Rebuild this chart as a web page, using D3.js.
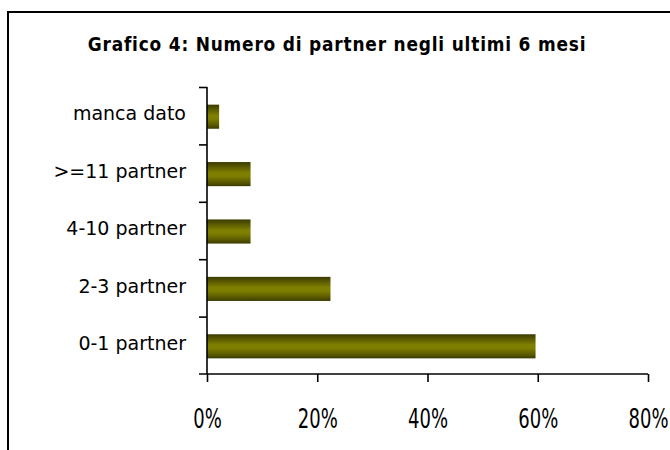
<!DOCTYPE html>
<html>
<head>
<meta charset="utf-8">
<script src="https://cdn.jsdelivr.net/npm/d3@7"></script>
<style>
  body { margin: 0; background: #fff; }
  text { font-family: "DejaVu Sans", sans-serif; fill: #000; }
</style>
</head>
<body>
<div id="chart"></div>
<script>
// data, top to bottom as in the picture
var categories = ["manca dato", ">=11 partner", "4-10 partner", "2-3 partner", "0-1 partner"];
var values = [2.2, 7.9, 7.9, 22.4, 59.6];
var xTicks = [0, 20, 40, 60, 80];
var title = "Grafico 4: Numero di partner negli ultimi 6 mesi";

var svgWidth = 670, svgHeight = 450;
var plotLeft = 207, plotRight = 648, plotTop = 87, plotBottom = 374;

var svg = d3.select("#chart").append("svg")
    .attr("width", svgWidth)
    .attr("height", svgHeight);

// bar gradient (dark edges, olive middle)
var grad = svg.append("defs").append("linearGradient")
    .attr("id", "olive")
    .attr("x1", 0).attr("y1", 0).attr("x2", 0).attr("y2", 1);
[[0, "#3b3b00"], [0.2, "#5a5a00"], [0.45, "#808000"], [0.6, "#7c7c00"], [0.85, "#585800"], [1, "#3b3b00"]]
    .forEach(function (s) {
        grad.append("stop").attr("offset", s[0]).attr("stop-color", s[1]);
    });

// frame
svg.append("rect")
    .attr("x", 8).attr("y", 12)
    .attr("width", 700).attr("height", 480)
    .attr("fill", "none")
    .attr("stroke", "#000")
    .attr("stroke-width", 2);

// title, a bit stretched vertically like the original
svg.append("text")
    .attr("text-anchor", "middle")
    .attr("transform", "translate(337,51) scale(1,1.1)")
    .attr("font-size", 17)
    .attr("font-weight", "bold")
    .attr("letter-spacing", 0.8)
    .text(title);

var x = d3.scaleLinear().domain([0, 80]).range([plotLeft, plotRight]);
var y = d3.scaleBand().domain(categories).range([plotTop, plotBottom])
    .paddingInner(0.58).paddingOuter(0.29);
var yEdge = d3.scaleLinear().domain([0, categories.length]).range([plotTop, plotBottom]);

// bars
svg.selectAll("rect.bar").data(values).enter()
    .append("rect")
    .attr("class", "bar")
    .attr("x", x(0))
    .attr("y", (d, i) => y(categories[i]) + 1)
    .attr("width", d => x(d) - x(0))
    .attr("height", y.bandwidth())
    .attr("fill", "url(#olive)");

// y axis: ticks on category boundaries
var yAxis = svg.append("g")
    .attr("transform", `translate(${plotLeft},0)`)
    .call(d3.axisLeft(yEdge).tickValues(d3.range(0, categories.length)).tickSize(8).tickFormat(""));

// x axis
var xAxis = svg.append("g")
    .attr("transform", `translate(0,${plotBottom})`)
    .call(d3.axisBottom(x).tickValues(xTicks).tickSize(8).tickFormat(d => d + "%"));

[yAxis, xAxis].forEach(function (g) {
    g.select(".domain").attr("stroke", "#000").attr("stroke-width", 1.6);
    g.selectAll(".tick line").attr("stroke", "#000").attr("stroke-width", 1.6);
});
yAxis.select(".domain").attr("d", `M0,${plotTop}V${plotBottom}`);
xAxis.select(".domain").attr("d", `M${plotLeft - 8},0H${plotRight}`);
// tall narrow tick labels
xAxis.selectAll(".tick text")
    .attr("y", null)
    .attr("dy", null)
    .attr("transform", "translate(0,54) scale(1,1.45)")
    .attr("font-size", 18)
    .attr("font-family", "DejaVu Sans, sans-serif")
    .attr("fill", "#000");

// category labels
svg.selectAll("text.cat").data(categories).enter()
    .append("text")
    .attr("class", "cat")
    .attr("x", 186)
    .attr("y", d => y(d) + y.bandwidth() / 2 - 2)
    .attr("dy", "0.35em")
    .attr("text-anchor", "end")
    .attr("font-size", 19)
    .text(d => d);
</script>
</body>
</html>
